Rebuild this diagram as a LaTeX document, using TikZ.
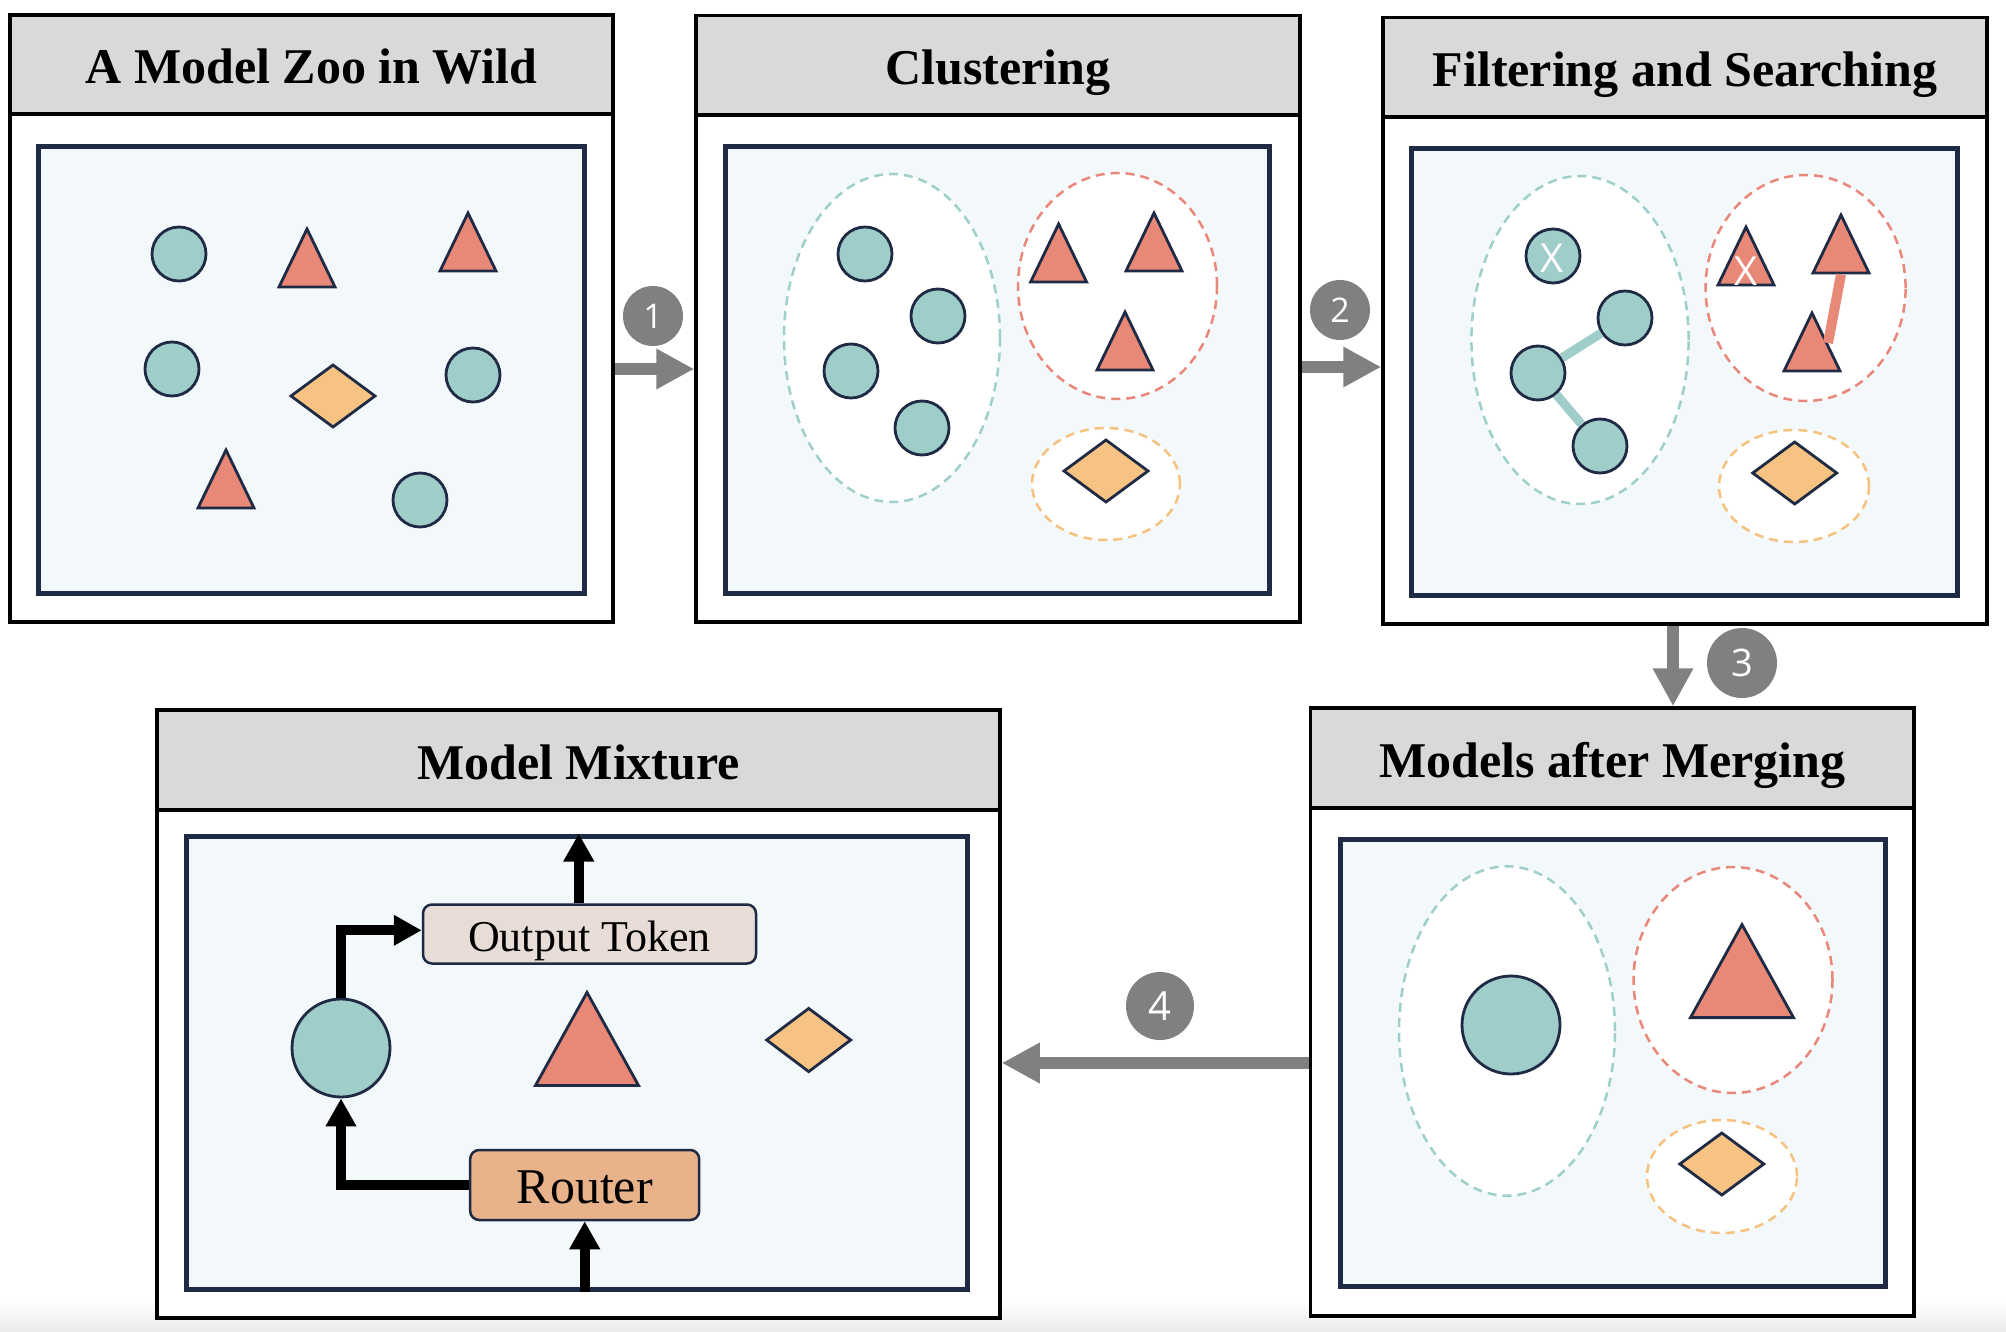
\documentclass[tikz,border=0pt]{standalone}
\usepackage{fontspec}
\setmainfont{Liberation Serif}
\newfontfamily\numfont{Open Sans}
\usetikzlibrary{arrows.meta,calc}
\definecolor{hdr}{HTML}{D9D9D9}
\definecolor{navy}{HTML}{1F2A44}
\definecolor{inbg}{HTML}{F3F8FB}
\definecolor{tealf}{HTML}{9FCDCA}
\definecolor{redf}{HTML}{E88876}
\definecolor{orgf}{HTML}{F6C383}
\definecolor{tealdash}{HTML}{9FCFCA}
\definecolor{reddash}{HTML}{E8877A}
\definecolor{orgdash}{HTML}{F5C27F}
\definecolor{grayc}{HTML}{808080}
\definecolor{routerf}{HTML}{E8B38A}
\definecolor{otf}{HTML}{E8DDD6}
\newcommand\tri[4]{\draw[shp,fill=redf] ({#1-#3/2},#2) -- (#1,{#2-#4}) -- ({#1+#3/2},#2) -- cycle;}
\newcommand\dia[4]{\draw[shp,fill=orgf] ({#1-#3},#2) -- (#1,{#2-#4}) -- ({#1+#3},#2) -- (#1,{#2+#4}) -- cycle;}
\begin{document}
\begin{tikzpicture}[x=1pt,y=-1pt,
  outerbox/.style={draw=black,line width=3.5pt,fill=white,rectangle,inner sep=0pt},
  header/.style={draw=black,line width=3.5pt,fill=hdr,rectangle,inner sep=0pt,
     font=\fontsize{50}{58}\selectfont\bfseries,text height=39pt,text depth=0pt},
  innerbox/.style={draw=navy,line width=5pt,fill=inbg,rectangle,inner sep=0pt},
  model/.style={circle,draw=navy,line width=2.8pt,fill=tealf,inner sep=0pt,minimum size=54pt},
  bigmodel/.style={model,minimum size=98pt},
  shp/.style={draw=navy,line width=2.8pt,line join=miter},
  cl/.style={fill=white,line width=2.5pt,dash pattern=on 9pt off 6pt},
  grayarr/.style={draw=grayc,line width=12pt,-{Triangle[length=38pt,width=38pt]}},
  blkarr/.style={draw=black,line width=10pt,-{Triangle[length=28pt,width=29pt]}},
  numc/.style={circle,fill=grayc,text=white,inner sep=0pt,font=\numfont\fontsize{34}{40}\selectfont},
  xmark/.style={text=white,inner sep=0pt,font=\numfont\fontsize{40}{46}\selectfont},
  lbox/.style={rectangle,rounded corners=9pt,draw=navy,line width=2.5pt,inner sep=0pt}
]
\useasboundingbox (0,0) rectangle (2006,1332);
\fill[white] (0,0) rectangle (2006,1332);
\shade[top color=white,bottom color=black!8] (0,1300) rectangle (2006,1332);

% ---------- Panel 1 ----------
\node[outerbox,minimum width=603pt,minimum height=607pt] (P1) at (311.5,318.5) {};
\node[header,minimum width=603pt,minimum height=99pt,anchor=north] (H1) at (P1.north) {A Model Zoo in Wild};
\node[innerbox,minimum width=546pt,minimum height=446pt] (I1) at (311.5,370) {};
\node[model] (m11) at (179,254) {};
\node[model] (m12) at (172,369) {};
\node[model] (m13) at (473,375) {};
\node[model] (m14) at (420,500) {};
\tri{307}{287}{56}{58}
\tri{468}{271}{56}{58}
\tri{226}{508}{56}{58}
\dia{333}{396}{42}{31}

% ---------- Panel 2 ----------
\node[outerbox,minimum width=604pt,minimum height=606.5pt] (P2) at (998,318.75) {};
\node[header,minimum width=604pt,minimum height=99.5pt,anchor=north] (H2) at (P2.north) {Clustering};
\node[innerbox,minimum width=544pt,minimum height=446pt] (I2) at (997,370) {};
\draw[cl,draw=tealdash] (892,338) ellipse [x radius=108pt,y radius=164pt];
\draw[cl,draw=reddash] (1117.5,286) ellipse [x radius=99.5pt,y radius=113pt];
\draw[cl,draw=orgdash] (1106,484) ellipse [x radius=74pt,y radius=56pt];
\node[model] (m21) at (865,254) {};
\node[model] (m22) at (938,316) {};
\node[model] (m23) at (851,371) {};
\node[model] (m24) at (922,428) {};
\tri{1058.6}{282}{56}{58}
\tri{1154}{271}{56}{58}
\tri{1125}{370}{56}{58}
\dia{1106}{471}{42}{31}

% ---------- Panel 3 ----------
\node[outerbox,minimum width=604pt,minimum height=606.5pt] (P3) at (1685,320.75) {};
\node[header,minimum width=604pt,minimum height=99.5pt,anchor=north] (H3) at (P3.north) {Filtering and Searching};
\node[innerbox,minimum width=546pt,minimum height=446.5pt] (I3) at (1684.5,372.25) {};
\draw[cl,draw=tealdash] (1580,340) ellipse [x radius=108.6pt,y radius=164pt];
\draw[cl,draw=reddash] (1805.6,288) ellipse [x radius=100pt,y radius=113pt];
\draw[cl,draw=orgdash] (1794,486) ellipse [x radius=75pt,y radius=56pt];
\node[model] (m31) at (1553,256) {};
\node[xmark] (x31) at (1552,258) {X};
\node[model] (m32) at (1625,318) {};
\node[model] (m33) at (1538,373) {};
\node[model] (m34) at (1600,446) {};
\draw[tealf,line width=9pt] (m33) -- (m32);
\draw[tealf,line width=9pt] (m33) -- (m34);
\tri{1746}{285}{56}{58}
\tri{1841}{273}{56}{58}
\tri{1812}{371}{56}{58}
\coordinate (t3in) at (1828,343);
\coordinate (t2base) at (1841,274.5);
\draw[redf,line width=10pt] (t3in) -- (t2base);
\node[xmark] (x32) at (1746,271) {X};
\dia{1794.7}{473}{42}{31}

% ---------- Panel 5 (Models after Merging) ----------
\node[outerbox,minimum width=603.5pt,minimum height=608pt] (P5) at (1612.25,1012) {};
\node[header,minimum width=603.5pt,minimum height=100pt,anchor=north] (H5) at (P5.north) {Models after Merging};
\node[innerbox,minimum width=545.4pt,minimum height=447pt] (I5) at (1612.7,1062.5) {};
\draw[cl,draw=tealdash] (1507,1031) ellipse [x radius=108pt,y radius=164.7pt];
\draw[cl,draw=reddash] (1733,980) ellipse [x radius=99.5pt,y radius=113pt];
\draw[cl,draw=orgdash] (1722,1176.5) ellipse [x radius=75pt,y radius=56.5pt];
\node[bigmodel] (m51) at (1511,1025) {};
\tri{1742}{1017.6}{103}{93}
\dia{1721.8}{1164}{42}{31}

% ---------- Panel 4 (Model Mixture) ----------
\node[outerbox,minimum width=843pt,minimum height=608pt] (P4) at (578.5,1014) {};
\node[header,minimum width=843pt,minimum height=100pt,anchor=north] (H4) at (P4.north) {Model Mixture};
\node[innerbox,minimum width=780.8pt,minimum height=453pt] (I4) at (577.1,1062.5) {};
\node[bigmodel] (M4) at (341,1048) {};
\tri{587}{1085.4}{103}{93}
\dia{808.7}{1040}{42}{31.6}
\node[lbox,fill=otf,minimum width=333pt,minimum height=59pt,
      font=\fontsize{44}{52}\selectfont,text height=34pt,text depth=0pt] (OT) at (589.5,934) {Output Token};
\node[lbox,fill=routerf,minimum width=229pt,minimum height=70pt,
      font=\fontsize{50}{58}\selectfont,text height=36pt,text depth=0pt] (R) at (584.7,1185) {Router};
\coordinate (otout) at ($(OT.north west)!0.468!(OT.north east)$);
\coordinate (otin) at ($(OT.north west)!0.44!(OT.south west)$);
\draw[blkarr] (otout) -- (otout |- I4.north);
\draw[blkarr] (M4.north) |- (otin);
\draw[blkarr] (R.west) -| (M4.south);
\draw[blkarr] (R.south |- I4.south) -- (R.south);

% ---------- Step arrows ----------
\coordinate (ya1) at (0,369);
\coordinate (ya2) at (0,367);
\coordinate (xa3) at (1673,0);
\coordinate (ya4) at (0,1063);
\draw[grayarr] (P1.east |- ya1) -- (P2.west |- ya1);
\draw[grayarr] (P2.east |- ya2) -- (P3.west |- ya2);
\draw[grayarr] (P3.south -| xa3) -- (P5.north -| xa3);
\draw[grayarr] (P5.west |- ya4) -- (P4.east |- ya4);
\node[numc,minimum size=60pt] (N1) at (653,316) {1};
\node[numc,minimum size=60pt] (N2) at (1340,310) {2};
\node[numc,minimum size=70pt,font=\numfont\fontsize{38}{44}\selectfont] (N3) at (1742,663) {3};
\node[numc,minimum size=68pt,font=\numfont\fontsize{40}{46}\selectfont] (N4) at (1160,1006) {4};
\end{tikzpicture}
\end{document}
